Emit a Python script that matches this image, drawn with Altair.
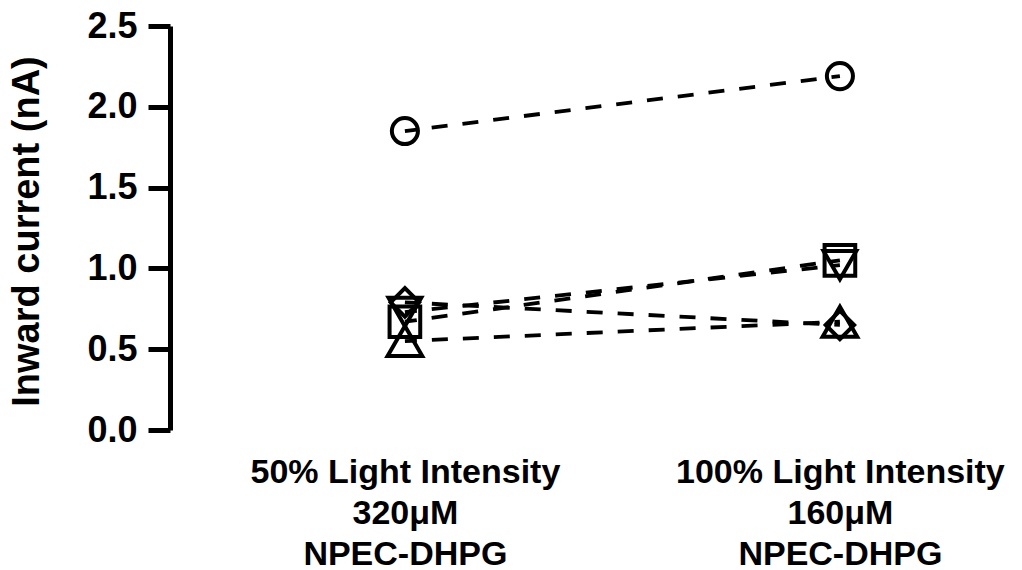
import json
import altair as alt
import pandas as pd

# ---- data ----
conditions = [
    ["50% Light Intensity", "320\u03bcM", "NPEC-DHPG"],
    ["100% Light Intensity", "160\u03bcM", "NPEC-DHPG"],
]
series = ["circle", "diamond", "square", "triangle-down", "triangle-up"]
current_50 = [1.85, 0.79, 0.67, 0.73, 0.55]
current_100 = [2.19, 0.65, 1.05, 1.02, 0.67]
y_ticks = [0.0, 0.5, 1.0, 1.5, 2.0, 2.5]

rows = []
for s, a, b in zip(series, current_50, current_100):
    rows.append({"cell": s, "cond": 0, "current": a})
    rows.append({"cell": s, "cond": 1, "current": b})
df = pd.DataFrame(rows)

label_expr = json.dumps(conditions) + "[datum.value]"
FONT = "Liberation Sans"

x = alt.X(
    "cond:Q",
    scale=alt.Scale(domain=[-0.54, 1.391], nice=False, zero=False),
    axis=alt.Axis(
        values=[0, 1], labelExpr=label_expr, domain=False, ticks=False, grid=False,
        labelFont=FONT, labelFontSize=34, labelFontWeight="bold", labelColor="black",
        labelLineHeight=41, labelPadding=25, labelLimit=0, labelOverlap=False,
        labelFlush=False, title=None,
    ),
)
y = alt.Y(
    "current:Q",
    scale=alt.Scale(domain=[0, 2.5], nice=False),
    axis=alt.Axis(
        values=y_ticks, format=".1f", grid=False,
        domainColor="black", domainWidth=5, tickColor="black", tickWidth=5, tickSize=22,
        labelFont=FONT, labelFontSize=36, labelFontWeight="bold", labelColor="black",
        labelPadding=11, title="Inward current (nA)", titleFont=FONT, titleFontSize=38,
        titleFontWeight="bold", titleColor="black", titlePadding=40, titleY=205,
    ),
)

lines = alt.Chart(df).mark_line(
    color="black", strokeWidth=3.8, strokeDash=[16, 15], strokeDashOffset=4
).encode(x=x, y=y, detail="cell:N")

points = alt.Chart(df).mark_point(
    filled=False, color="black", strokeWidth=4, opacity=1
).encode(
    x=x, y=y,
    shape=alt.Shape("cell:N", scale=alt.Scale(domain=series, range=series), legend=None),
    size=alt.Size("cell:N", scale=alt.Scale(domain=series, range=[680, 1200, 460, 680, 680]), legend=None),
)

chart = (lines + points).properties(
    width=840, height=404,
    background="white",
    autosize=alt.AutoSizeParams(type="none"),
    padding={"left": 162, "top": 18, "right": 4, "bottom": 140},
).configure_view(strokeWidth=0)

chart.save("out.html", embed_options={"renderer": "svg", "actions": False})
